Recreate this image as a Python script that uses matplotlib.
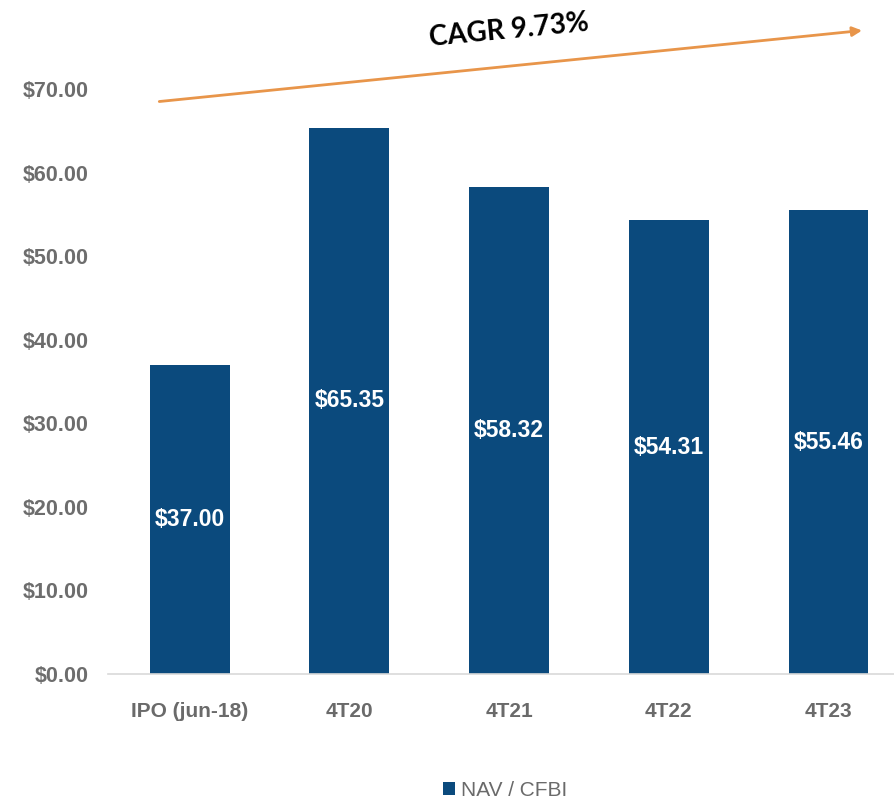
import matplotlib

matplotlib.use("Agg")
import matplotlib.pyplot as plt
from matplotlib.patches import Patch

categories = ["IPO (jun-18)", "4T20", "4T21", "4T22", "4T23"]
nav_values = [37.00, 65.35, 58.32, 54.31, 55.46]
y_ticks = [0, 10, 20, 30, 40, 50, 60, 70]
series_name = "NAV / CFBI"
cagr_label = "CAGR 9.73%"

BAR_COLOR = "#0b4a7d"
ARROW_COLOR = "#e8954a"
TICK_GRAY = "#6d6d6d"

plt.rcParams["font.family"] = ["Liberation Sans", "DejaVu Sans"]

fig = plt.figure(figsize=(8.94, 8.01), dpi=100)
ax = fig.add_axes([0.121, 0.1586, 0.879, 0.7303])

x = list(range(len(categories)))
bars = ax.bar(x, nav_values, width=0.5, color=BAR_COLOR, zorder=2)

for rect, val in zip(bars, nav_values):
    ax.text(
        rect.get_x() + rect.get_width() / 2,
        val / 2,
        f"${val:.2f}",
        ha="center",
        va="center",
        color="white",
        fontsize=16.5,
        fontweight="bold",
        zorder=3,
    )

ax.set_xlim(-0.51, 4.41)
ax.set_ylim(0, 70)
ax.set_yticks(y_ticks)
ax.set_yticklabels([f"${v:.2f}" for v in y_ticks], fontsize=15.5,
                   fontweight="bold", color=TICK_GRAY)
ax.set_xticks(x)
ax.set_xticklabels(categories, fontsize=15, fontweight="bold", color="#6a6a6a")
ax.tick_params(axis="both", length=0)
ax.tick_params(axis="x", pad=20)
ax.tick_params(axis="y", pad=14)

for side in ["top", "right", "left"]:
    ax.spines[side].set_visible(False)
ax.spines["bottom"].set_color("#d9d9d9")
ax.spines["bottom"].set_linewidth(1.2)

# CAGR arrow above the bars
ax.annotate(
    "",
    xy=(4.21, 77.0),
    xytext=(-0.19, 68.5),
    arrowprops=dict(arrowstyle="-|>", color=ARROW_COLOR, lw=2,
                    mutation_scale=14, shrinkA=0, shrinkB=0),
    annotation_clip=False,
)
ax.text(2.0, 77.0, cagr_label, ha="center", va="center", rotation=5.5,
        fontsize=20, fontweight="bold", family=["Lato", "DejaVu Sans"],
        color="black", clip_on=False)

handles = [Patch(facecolor=BAR_COLOR, label=series_name)]
fig.legend(handles=handles, loc="lower center", bbox_to_anchor=(0.565, -0.022),
           frameon=False, fontsize=15, labelcolor="#6a6a6a",
           handlelength=0.6, handleheight=0.6, handletextpad=0.3)

fig.savefig("out.png", dpi=100)
